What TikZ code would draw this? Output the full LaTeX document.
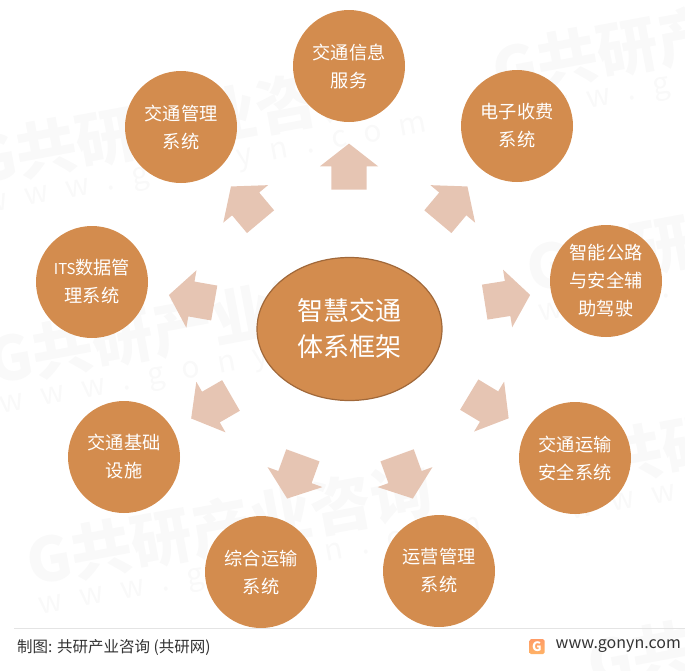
\documentclass[tikz,border=0pt]{standalone}
\usepackage{fontspec}
\setmainfont{Noto Sans CJK SC}
\usetikzlibrary{shapes.geometric}
\usetikzlibrary{shapes.arrows}
\definecolor{ochre}{HTML}{D38C4E}
\definecolor{ochredark}{HTML}{A0683A}
\definecolor{peach}{HTML}{E6C5B3}
\definecolor{footline}{HTML}{E4E4E4}
\definecolor{footgrey}{HTML}{333333}
\definecolor{wmgrey}{HTML}{F9F9F9}
\tikzset{
  topic/.style={circle, fill=ochre, text=white, minimum size=112pt, inner sep=0pt, align=center, font=\fontsize{18.2}{28}\selectfont},
  flow/.style={single arrow, fill=peach, minimum width=58pt, minimum height=46pt, single arrow head extend=11.5pt, single arrow tip angle=104, inner xsep=0pt, inner ysep=17.5pt, anchor=center, rotate=#1, xshift=-7pt},
  foot/.style={text=footgrey, inner sep=0pt},
  wmark/.style={text=wmgrey, anchor=west, inner sep=0pt, rotate=10.5, font=\bfseries\fontsize{61}{64}\selectfont},
  wsite/.style={text=wmgrey, anchor=west, inner sep=0pt, rotate=10.5, font=\fontsize{30}{32}\selectfont\addfontfeature{LetterSpace=60}}
}
\begin{document}
\begin{tikzpicture}[x=1pt, y=-1pt]
      \useasboundingbox (0,0) rectangle (685,670);
      \foreach \wx/\wy [count=\wi] in {-28/162, -12/362, 27/563, 493/72, 527/270, 558/468, 588/665} {
        \node[wmark] (mark\wi) at (\wx,\wy) {G共研产业咨询};
        \node[wsite] (url\wi) at (\wx+12,\wy+47) {www.gonyn.com};
      }
      \node[ellipse, draw=ochredark, line width=1.2pt, fill=ochre, text=white, minimum width=185pt, minimum height=143pt, inner sep=0pt, align=center, font=\fontsize{26}{36}\selectfont] (core) at (349.5,329) {智慧交通\\体系框架};
      \node[topic] (info) at (349,66) {交通信息\\服务};
      \node[topic] (toll) at (517,126) {电子收费\\系统};
      \node[topic] (assist) at (606,281) {智能公路\\与安全辅\\助驾驶};
      \node[topic] (safety) at (575,458) {交通运输\\安全系统};
      \node[topic] (operate) at (439,571) {运营管理\\系统};
      \node[topic] (transport) at (261,572) {综合运输\\系统};
      \node[topic] (base) at (124,457) {交通基础\\设施};
      \node[topic] (data) at (92,282) {{\fontsize{15}{28}\selectfont ITS}数据管\\理系统};
      \node[topic] (manage) at (181,127) {交通管理\\系统};
      \node[flow=90] (a1) at (349,166.5) {};
      \node[flow=50] (a2) at (452.7,204) {};
      \node[flow=9] (a3) at (507.5,298.5) {};
      \node[flow=-31] (a4) at (489,406.5) {};
      \node[flow=-70] (a5) at (405,477) {};
      \node[flow=-110] (a6) at (295,477) {};
      \node[flow=210] (a7) at (211,407) {};
      \node[flow=170] (a8) at (191.5,299) {};
      \node[flow=130] (a9) at (245.7,204) {};
      \coordinate (ruleleft) at (14,628);
      \coordinate (ruleright) at (685,628);
      \draw[footline] (ruleleft) -- (ruleright);
      \node[foot, anchor=west, font=\fontsize{15.5}{16}\selectfont] (source) at (17,647) {制图: 共研产业咨询 (共研网)};
      \node[foot, anchor=east, font=\fontsize{16}{16}\selectfont] (site) at (681,646) {www.gonyn.com};
      \node[top color=orange!70!red!60, bottom color=orange!60, rounded corners=1.5pt, text=white, minimum size=15pt, inner sep=0pt, font=\bfseries\fontsize{13}{13}\selectfont] (logo) at (537,646.5) {G};
    \end{tikzpicture}
\end{document}
